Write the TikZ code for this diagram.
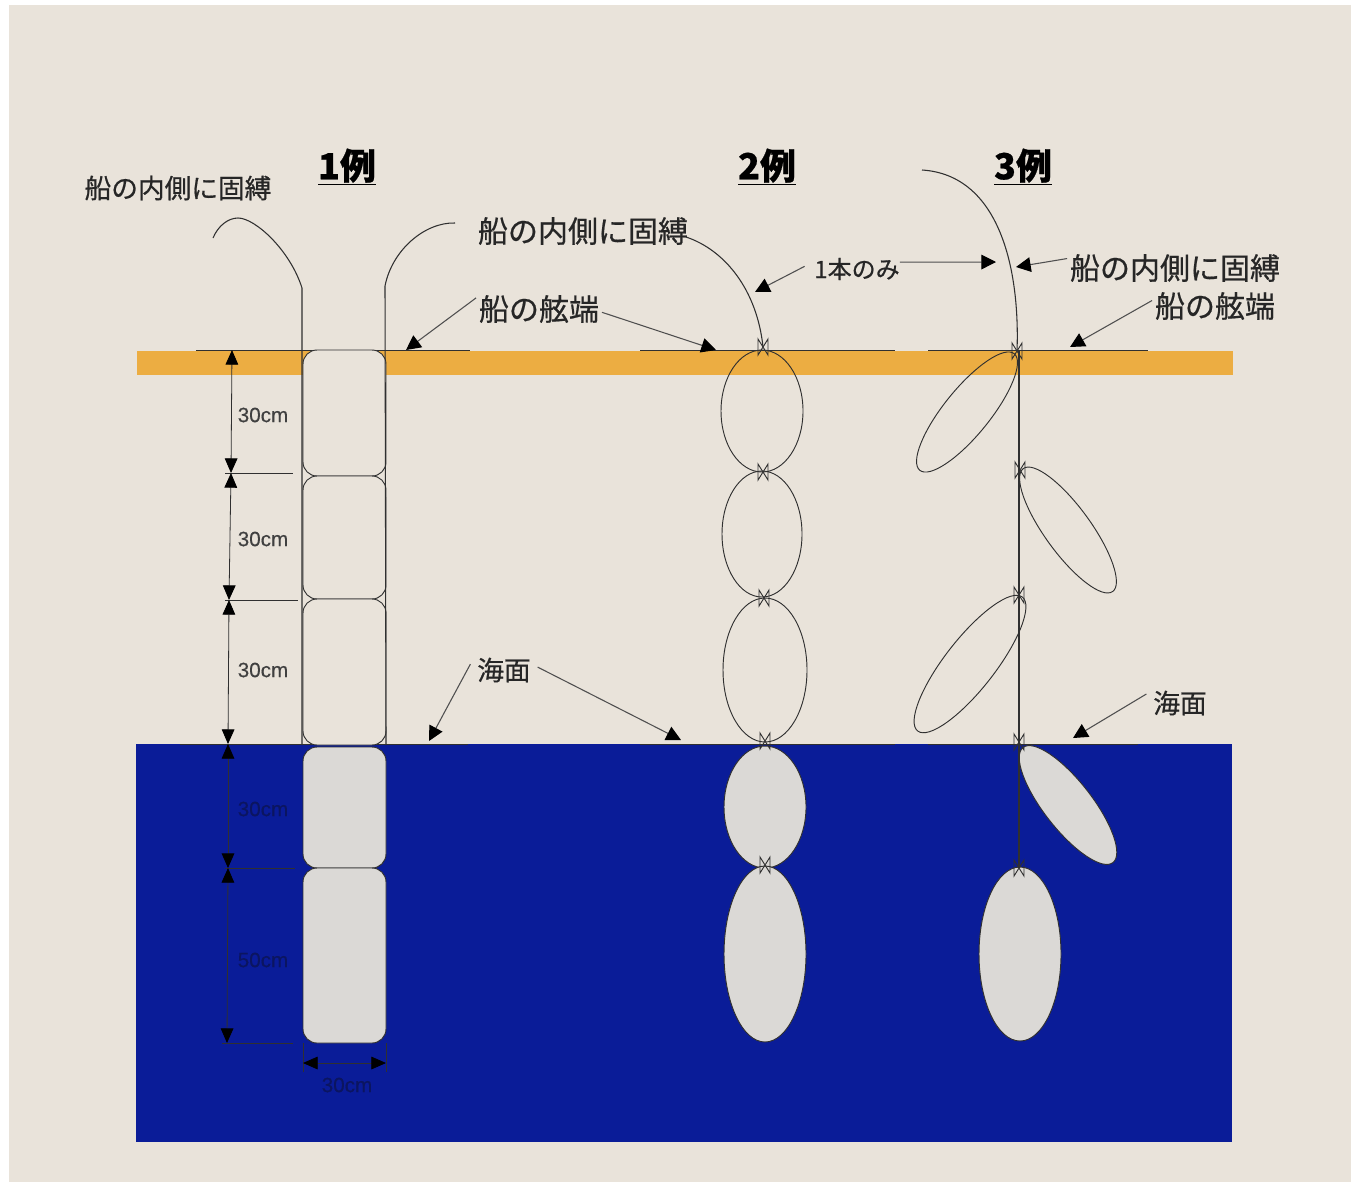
\documentclass[tikz,border=0pt]{standalone}
\usepackage{fontspec}
\setmainfont{Noto Sans CJK JP}[FakeBold=0.6]
\newfontfamily\dimfont{Liberation Sans}[FakeBold=0.3]
\usetikzlibrary{arrows.meta}
\definecolor{paper}{HTML}{E9E3DA}
\definecolor{hullcol}{HTML}{ECAD42}
\definecolor{seacol}{HTML}{0A1C98}
\definecolor{buoycol}{HTML}{DBD9D6}
\definecolor{inkcol}{HTML}{303030}
\definecolor{dimsea}{HTML}{0B1560}
\tikzset{
  rope/.style={draw=inkcol,line width=0.8pt},
  thinline/.style={draw=inkcol,line width=0.7pt},
  callout/.style={draw=inkcol!85,line width=0.8pt,-{Triangle[length=11pt,width=11pt,fill=black,color=black]}},
  dimline/.style={draw=inkcol,line width=0.6pt,{Triangle[length=11pt,width=9.5pt,fill=black,color=black]}-{Triangle[length=11pt,width=9.5pt,fill=black,color=black]}},
  buoy/.style={draw=inkcol,line width=0.7pt},
  wetbuoy/.style={buoy,fill=buoycol},
  bigtext/.style={font=\fontsize{22.5pt}{24pt}\selectfont,text=black!85,inner sep=2pt},
  midtext/.style={font=\fontsize{20pt}{22pt}\selectfont,text=black!85,inner sep=5pt},
  smalltext/.style={font=\fontsize{18pt}{20pt}\selectfont,text=black!85,inner sep=0pt},
  dimtext/.style={font=\dimfont\fontsize{15.5pt}{17pt}\selectfont,text=black!75,inner sep=1pt},
  titletext/.style={font=\bfseries\fontsize{27pt}{29pt}\selectfont,inner sep=0pt},
  x=0.75pt,y=-0.75pt
}
\begin{document}
\begin{tikzpicture}
  \useasboundingbox (0,0) rectangle (1351,1182);
  \fill[white] (0,0) rectangle (1351,1182);
  \fill[paper] (9,5) rectangle (1351,1182);
  \fill[hullcol] (137,351) rectangle (1233,375);
  \fill[seacol] (136,744) rectangle (1232,1142);
  % hull and sea lines
  \foreach \ya/\xa/\xb in {350/196/470,350/640/895,350/928/1148,744/180/468,744/640/895,744/928/1138}
    \draw[thinline] (\xa,\ya)--(\xb,\ya);
  % first example: boxes
  \draw[buoy,fill=paper,rounded corners=10.5pt] (303,350) rectangle (386,476);
  \draw[buoy,fill=paper,rounded corners=10.5pt] (303,476) rectangle (386,599);
  \draw[buoy,fill=paper,rounded corners=10.5pt] (303,599) rectangle (386,745);
  \draw[wetbuoy,rounded corners=10.5pt] (303,747) rectangle (386,868);
  \draw[wetbuoy,rounded corners=10.5pt] (303,868) rectangle (386,1043);
  \coordinate (ropeL) at (302,288);
  \coordinate (ropeR) at (385,286);
  \draw[rope] (302,745)--(ropeL) .. controls (290,250) and (255,218) .. (238,218) .. controls (228,218) and (218,226) .. (213,238);
  \draw[rope] (386,745)--(ropeR) .. controls (392,250) and (425,222) .. (455,223);
  % ticks and sizes
  \foreach \ya/\xa/\xb in {473/225/293,600/225/298,868/225/295,1043/222/293}
    \draw[thinline] (\xa,\ya)--(\xb,\ya);
  \draw[thinline] (303,1043)--(303,1072);
  \draw[thinline] (386,1043)--(386,1072);
  \coordinate (d0) at (232,350);
  \coordinate (d1) at (231,473);
  \coordinate (d2) at (229,600);
  \coordinate (d3) at (228,744);
  \coordinate (d4) at (228,868);
  \coordinate (d5) at (227,1043);
  \coordinate (wL) at (303,1063);
  \coordinate (wR) at (386,1063);
  \draw[dimline] (d0)--(d1);
  \draw[dimline] (d1)--(d2);
  \draw[dimline] (d2)--(d3);
  \draw[dimline] (d3)--(d4);
  \draw[dimline] (d4)--(d5);
  \draw[dimline] (wL)--(wR);
  \node[dimtext] (s1) at (263,415) {30cm};
  \node[dimtext] (s2) at (263,539) {30cm};
  \node[dimtext] (s3) at (263,670) {30cm};
  \node[dimtext,text=dimsea] (s4) at (263,809) {30cm};
  \node[dimtext,text=dimsea] (s5) at (263,960) {50cm};
  \node[dimtext,text=dimsea] (s6) at (347,1085) {30cm};
  % second example
  \draw[buoy] (762,411) ellipse (41 and 61);
  \draw[buoy] (762,534) ellipse (40 and 63);
  \draw[buoy] (765,670) ellipse (42 and 72);
  \draw[wetbuoy] (765,807) ellipse (41 and 61);
  \draw[wetbuoy] (765,954) ellipse (41 and 88);
  % third example
  \draw[buoy,shift={(967,412)},rotate=51] (0,0) ellipse (75 and 23);
  \draw[buoy,shift={(1068,530)},rotate=-54] (0,0) ellipse (76 and 23);
  \draw[buoy,shift={(970,664)},rotate=52] (0,0) ellipse (85 and 25);
  \draw[wetbuoy,shift={(1068,805)},rotate=-52] (0,0) ellipse (73 and 24);
  \draw[wetbuoy] (1020,954) ellipse (41 and 87);
  \draw[rope] (1019,351)--(1019,868);
  % knots
  \foreach \n/\x/\y in {a/763/347,b/763/472,c/764/598,d/765/741,e/765/865,f/1017/351,g/1020/470,h/1019/595,i/1019/742,j/1019/868}{
    \coordinate (k\n) at (\x,\y);
    \draw[thinline,shift={(\x,\y)}] (-5,-8)--(-5,8)--(5,-8)--(5,8)--cycle;
  }
  % labels
  \node[titletext] (t1) at (347,167) {\underline{1例}};
  \node[titletext] (t2) at (767,167) {\underline{2例}};
  \node[titletext] (t3) at (1023,167) {\underline{3例}};
  \node[midtext] (inA) at (178,188) {船の内側に固縛};
  \node[bigtext] (inB) at (583,231) {船の内側に固縛};
  \node[bigtext] (inC) at (1175,268) {船の内側に固縛};
  \node[bigtext] (hullA) at (539,309) {船の舷端};
  \node[bigtext] (hullB) at (1215,306) {船の舷端};
  \node[midtext] (seaA) at (504,670) {海面};
  \node[midtext] (seaB) at (1180,703) {海面};
  \node[smalltext] (only) at (857,269) {1本のみ};
  % ropes to the boat
  \draw[rope] (ka) .. controls (757,290) and (725,250) .. (686,237);
  \coordinate (topC) at (922,170);
  \draw[rope] (kf) .. controls (1020,270) and (1000,175) .. (topC);
  % arrows
  \coordinate (tipA) at (406,350);
  \coordinate (tipB) at (716,350);
  \coordinate (tipC) at (1070,347);
  \coordinate (tipD) at (429,741);
  \coordinate (tipE) at (681,740);
  \coordinate (tipF) at (1073,738);
  \coordinate (tipG) at (755,292);
  \coordinate (tipH) at (996,262);
  \coordinate (tipI) at (1016,267);
  \draw[callout] (hullA.170)--(tipA);
  \draw[callout] (hullA.-3)--(tipB);
  \draw[callout] (hullB.175)--(tipC);
  \draw[callout] (seaA.170)--(tipD);
  \draw[callout] (seaA.5)--(tipE);
  \draw[callout] (seaB.165)--(tipF);
  \draw[callout,shorten <=8pt] (only.170)--(tipG);
  \draw[callout] (only.9.6)--(tipH);
  \draw[callout] (inC.175)--(tipI);
\end{tikzpicture}
\end{document}
